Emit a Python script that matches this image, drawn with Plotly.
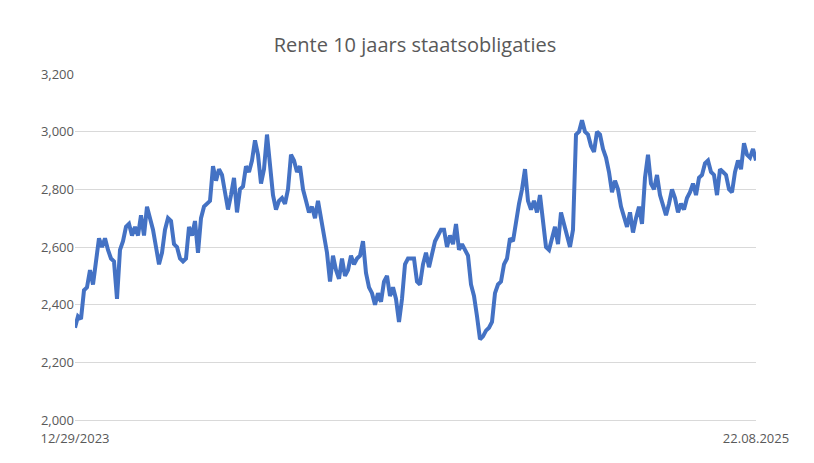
import plotly.graph_objects as go

# rente (x1000), approx. readings along the period
rente = [2320, 2360, 2350, 2450, 2460, 2520, 2470, 2560, 2630, 2600, 2630, 2590, 2560, 2550, 2420,
         2590, 2620, 2670, 2680, 2640, 2670, 2640, 2710, 2640, 2740, 2700, 2660, 2600, 2540, 2580,
         2660, 2700, 2690, 2610, 2600, 2560, 2550, 2560, 2670, 2640, 2690, 2580, 2700, 2740, 2750,
         2760, 2880, 2830, 2870, 2850, 2790, 2730, 2780, 2840, 2720, 2800, 2810, 2880, 2860, 2900,
         2970, 2920, 2820, 2870, 2990, 2900, 2780, 2730, 2760, 2770, 2750, 2800, 2920, 2900, 2860,
         2880, 2800, 2760, 2720, 2740, 2700, 2760, 2700, 2660, 2580, 2480, 2570, 2520, 2490, 2560,
         2500, 2520, 2570, 2540, 2560, 2570, 2620, 2510, 2460, 2440, 2400, 2440, 2410, 2480, 2500,
         2430, 2460, 2420, 2340, 2420, 2540, 2560, 2560, 2560, 2480, 2470, 2540, 2580, 2530, 2570,
         2620, 2640, 2660, 2660, 2600, 2640, 2610, 2680, 2590, 2610, 2590, 2570, 2470, 2430, 2360,
         2280, 2290, 2310, 2320, 2340, 2440, 2470, 2480, 2540, 2560, 2630, 2620, 2690, 2750, 2800,
         2870, 2760, 2730, 2760, 2720, 2780, 2680, 2600, 2590, 2630, 2670, 2610, 2720, 2680, 2640,
         2600, 2660, 2990, 3000, 3040, 3000, 2990, 2950, 2930, 3000, 2990, 2940, 2910, 2860, 2790,
         2830, 2800, 2740, 2700, 2670, 2720, 2650, 2700, 2740, 2680, 2840, 2920, 2820, 2800, 2850,
         2780, 2740, 2710, 2750, 2800, 2770, 2720, 2750, 2730, 2770, 2790, 2820, 2780, 2840, 2850,
         2890, 2900, 2860, 2850, 2780, 2870, 2860, 2850, 2800, 2790, 2860, 2900, 2870, 2960, 2920,
         2910, 2940, 2900]
x_idx = list(range(len(rente)))
x_labels = ["12/29/2023", "22.08.2025"]
y_ticks = [2000, 2200, 2400, 2600, 2800, 3000, 3200]

fig = go.Figure(go.Scatter(x=x_idx, y=rente, mode="lines",
                           line=dict(color="#4472C4", width=4), hoverinfo="y"))

fig.update_layout(
    width=814, height=463,
    paper_bgcolor="white", plot_bgcolor="white",
    margin=dict(l=67, r=66, t=66, b=51),
    font=dict(family="Open Sans", color="#595959", size=13),
    title=dict(text="Rente 10 jaars staatsobligaties", x=0.5, xanchor="center",
               y=0.935, font=dict(size=20, color="#595959")),
    showlegend=False,
    xaxis=dict(range=[0, len(rente) - 1], tickvals=[0, len(rente) - 1], ticktext=x_labels,
               showgrid=False, zeroline=False, showline=True, linecolor="#d9d9d9",
               ticks="", ticklabelstandoff=6),
    yaxis=dict(range=[2000, 3200], tickvals=y_ticks, tickformat=",d",
               showgrid=True, gridcolor="#d9d9d9", zeroline=False, ticks=""),
)

fig.write_html("out.html")
